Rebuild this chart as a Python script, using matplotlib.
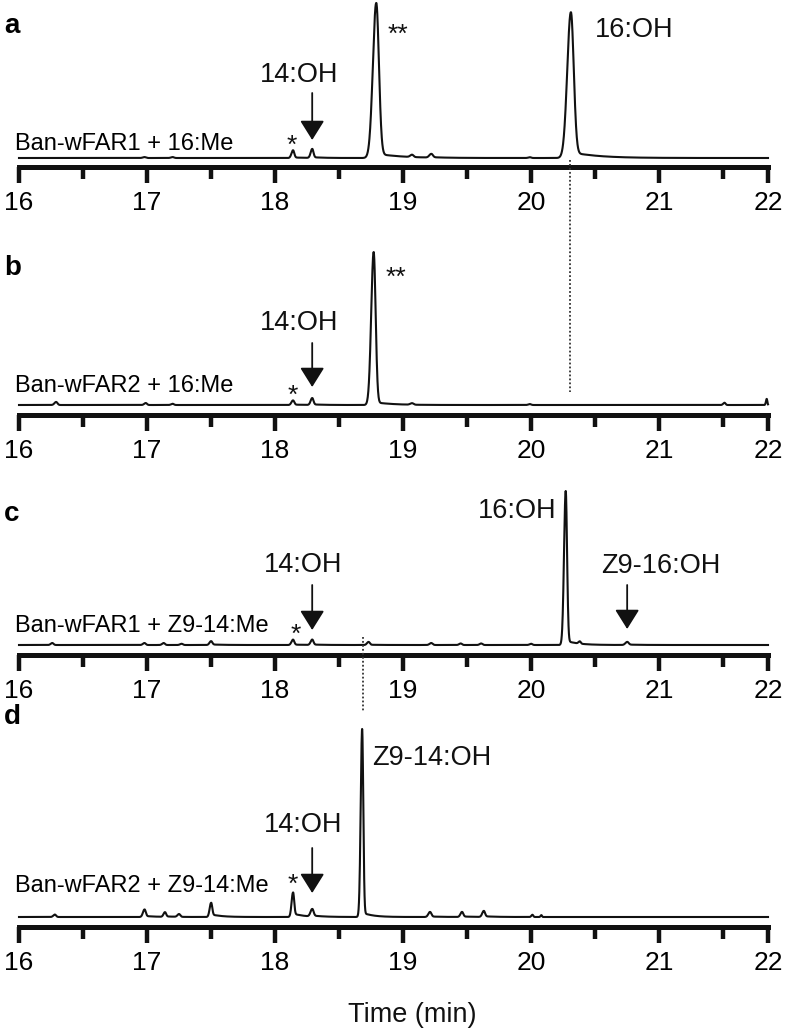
import numpy as np
import matplotlib.pyplot as plt
import matplotlib.transforms as mtransforms
from matplotlib.lines import Line2D

plt.rcParams['font.family'] = ['Liberation Sans', 'DejaVu Sans']

W, H = 788, 1032
X_END = 21.85  # the drawn axis stops a little short of 22

tick_values = [16, 17, 18, 19, 20, 21, X_END]
tick_labels = ["16", "17", "18", "19", "20", "21", "22"]

# peak tables: retention time (min), height (% of tallest peak),
# sigma (min), tail height (% of tallest peak)
a_rt     = [16.98, 17.20, 18.14, 18.29, 18.79, 19.07, 19.22, 19.99, 20.31]
a_height = [0.6, 0.6, 5.0, 5.8, 100, 1.5, 2.4, 0.5, 94]
a_sigma  = [0.013, 0.013, 0.012, 0.012, 0.026, 0.014, 0.015, 0.012, 0.028]
a_tail   = [0, 0, 0.4, 0.5, 3.0, 0, 0.3, 0, 4.0]

b_rt     = [16.29, 16.99, 17.20, 18.14, 18.29, 18.77, 19.07, 19.99, 21.51, 21.84]
b_height = [2.0, 1.3, 0.8, 3.0, 4.5, 100, 1.0, 0.6, 1.5, 4.0]
b_sigma  = [0.013, 0.012, 0.012, 0.012, 0.012, 0.019, 0.014, 0.012, 0.010, 0.006]
b_tail   = [0, 0, 0, 0.3, 0.4, 2.0, 0, 0, 0, 0]

c_rt     = [16.26, 16.98, 17.13, 17.27, 17.50, 18.14, 18.29, 18.73, 19.22, 19.45,
            19.61, 20.00, 20.27, 20.38, 20.75]
c_height = [1.3, 1.3, 1.3, 0.8, 2.5, 3.5, 3.5, 2.0, 1.3, 1.0, 1.0, 0.8, 100, 1.5, 2.0]
c_sigma  = [0.012, 0.012, 0.012, 0.012, 0.012, 0.012, 0.012, 0.012, 0.013, 0.012,
            0.012, 0.012, 0.013, 0.010, 0.014]
c_tail   = [0, 0, 0, 0, 0.4, 0.3, 0.3, 0.2, 0, 0, 0, 0, 3.0, 0, 0.3]

d_rt     = [16.28, 16.98, 17.14, 17.25, 17.50, 18.14, 18.29, 18.68, 19.21, 19.46,
            19.63, 20.01, 20.08]
d_height = [1.3, 4.0, 2.5, 1.5, 7.5, 13.0, 4.0, 100, 2.7, 2.7, 3.2, 1.2, 1.0]
d_sigma  = [0.012, 0.012, 0.011, 0.012, 0.011, 0.011, 0.013, 0.011, 0.013, 0.012,
            0.012, 0.008, 0.006]
d_tail   = [0, 0.6, 0.3, 0, 1.5, 2.0, 0.6, 2.5, 0.3, 0.3, 0.4, 0, 0]

sample_labels = ["Ban-wFAR1 + 16:Me", "Ban-wFAR2 + 16:Me",
                 "Ban-wFAR1 + Z9-14:Me", "Ban-wFAR2 + Z9-14:Me"]
panel_letters = ["a", "b", "c", "d"]


def chromatogram(t, rts, heights, sigmas, tails):
    """ Sum of slightly skewed peaks with an exponential tail after each apex """
    y = np.zeros_like(t)
    for rt, h, s, tail in zip(rts, heights, sigmas, tails):
        d = t - rt
        sd = np.where(d < 0, s, 0.8 * s)
        y += h * np.exp(-0.5 * (d / sd) ** 2)
        dp = np.clip(d, 0, None)
        y += np.where(d > 0, tail * (1 - np.exp(-dp / s)) * np.exp(-dp / (7 * s)), 0)
    return y


def fy(p):
    """ figure pixel row -> figure fraction """
    return 1 - p / H


fig = plt.figure(figsize=(W / 100, H / 100), dpi=100)
t = np.linspace(16, X_END, 4000)

# spine row, apex row of tallest peak, baseline row (pixels from top)
layout = [(167, 3, 158), (415, 252, 405), (655, 491, 645), (927, 729, 917)]
peaks = [(a_rt, a_height, a_sigma, a_tail), (b_rt, b_height, b_sigma, b_tail),
         (c_rt, c_height, c_sigma, c_tail), (d_rt, d_height, d_sigma, d_tail)]
letter_rows = [33, 275, 521, 724]
label_rows = [150, 392, 632, 892]

axes = []
for i, ((spine, top, base), pk) in enumerate(zip(layout, peaks)):
    ppu = (base - top) / 100
    ylo = -(spine - base) / ppu
    ax = fig.add_axes([19 / W, 1 - spine / H, (768 - 19) / W, (spine - top) / H])
    ax.set_xlim(16, X_END)
    ax.set_ylim(ylo, 100)
    ax.plot(t, chromatogram(t, *pk), color='#111111', lw=1.5, clip_on=False,
            solid_joinstyle='round')

    for side in ['top', 'left', 'right']:
        ax.spines[side].set_visible(False)
    ax.spines['bottom'].set_linewidth(3.6)
    ax.spines['bottom'].set_color('#111111')
    ax.set_yticks([])
    ax.set_xticks(tick_values)
    ax.set_xticklabels(tick_labels)
    ax.set_xticks(np.arange(16.5, 21.6, 1.0), minor=True)
    ax.tick_params(axis='x', which='major', length=11.5, width=3.2, pad=6,
                   labelsize=19, color='#111111')
    ax.tick_params(axis='x', which='minor', length=8.5, width=3.2, color='#111111')
    ax.patch.set_alpha(0)

    tr = mtransforms.blended_transform_factory(ax.transData, fig.transFigure)
    ax.text(16 + (15 - 19) / 128, fy(label_rows[i]), sample_labels[i], transform=tr,
            fontsize=17, va='baseline', ha='left')
    fig.text(4 / W, fy(letter_rows[i]), panel_letters[i], fontsize=20,
             fontweight='bold', va='baseline', ha='left')
    axes.append((ax, tr))


def arrow(tr, x, p_from, p_to):
    axes[0][0].annotate('', xy=(x, fy(p_to)), xytext=(x, fy(p_from)),
                        xycoords=tr, textcoords=tr,
                        arrowprops=dict(arrowstyle='-|>,head_length=12,head_width=7.5',
                                        mutation_scale=1, lw=1.3, color='#111111',
                                        shrinkA=0, shrinkB=0))


def label(tr, x, p, s, ha='center', size=19.5):
    fig.text(x, fy(p), s, transform=tr, fontsize=size, ha=ha, va='baseline',
             color='#111111')


# panel a
tr = axes[0][1]
label(tr, 18.19, 82, "14:OH")
arrow(tr, 18.29, 93, 140)
label(tr, 18.13, 153, "*", size=19)
label(tr, 18.875, 42, "**", ha='left', size=19)
label(tr, 20.50, 37, "16:OH", ha='left')

# panel b
tr = axes[1][1]
label(tr, 18.19, 330, "14:OH")
arrow(tr, 18.29, 343, 387)
label(tr, 18.14, 403, "*", size=19)
label(tr, 18.86, 285, "**", ha='left', size=19)

# panel c
tr = axes[2][1]
label(tr, 18.22, 572, "14:OH")
arrow(tr, 18.29, 585, 630)
label(tr, 18.16, 642, "*", size=19)
label(tr, 20.20, 518, "16:OH", ha='right')
label(tr, 20.55, 573, "Z9-16:OH", ha='left')
arrow(tr, 20.75, 585, 629)

# panel d
tr = axes[3][1]
label(tr, 18.22, 832, "14:OH")
arrow(tr, 18.29, 848, 893)
label(tr, 18.14, 892, "*", size=19)
label(tr, 18.76, 765, "Z9-14:OH", ha='left')
label(tr, 19.07, 1022, "Time (min)", size=19.5)

# dotted guide lines across panels
for (ax, tr), x, p0, p1 in [(axes[0], 20.30, 160, 392), (axes[2], 18.685, 637, 712)]:
    fig.add_artist(Line2D([x, x], [fy(p0), fy(p1)], transform=tr, color='#333333',
                          lw=1.3, linestyle=(0, (1, 1.2))))

fig.savefig('out.png', dpi=100)
